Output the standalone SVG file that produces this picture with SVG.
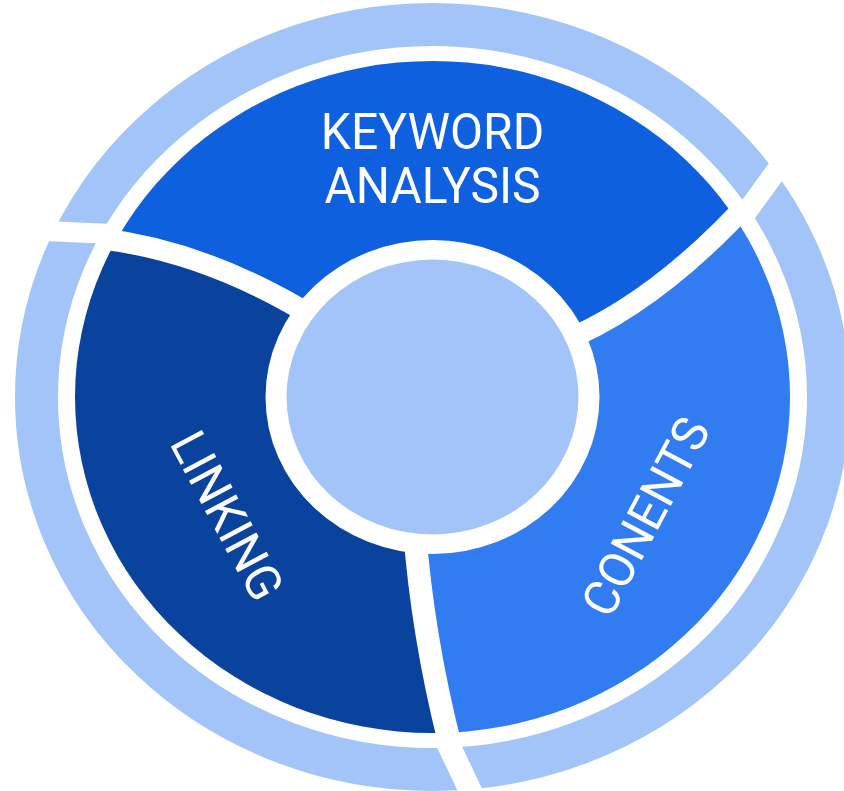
<svg xmlns="http://www.w3.org/2000/svg" width="844" height="791" viewBox="0 0 844 791">
<style>
.lbl{font-family:Roboto,"Liberation Sans",sans-serif;font-size:48px;fill:#fff;text-anchor:middle}
.gap{fill:none;stroke:#fff;stroke-linecap:butt}
.light{fill:#A3C4F8}
</style>
<defs>
<clipPath id="midclip"><ellipse cx="432.5" cy="397" rx="357.5" ry="336"/></clipPath>
<clipPath id="gapclip"><ellipse cx="432.5" cy="397" rx="366" ry="344"/></clipPath>
</defs>
<rect width="844" height="791" fill="#fff"/>
<g id="outer-ring">
<ellipse cx="432.5" cy="397" rx="396" ry="372.5" fill="none" stroke="#A3C4F8" stroke-width="43"/>
</g>
<g id="seg-keyword">
<path clip-path="url(#midclip)" fill="#0E60DF" d="M432.5,397 L320,320.9 Q205,248.4 90,237.6 L0,230 L0,0 L844,0 L844,100 L760,189.9 Q660,302.6 560,342.7 Z"/>
<text class="lbl" transform="translate(432.5 149.3) scale(1 1.03)">KEYWORD</text>
<text class="lbl" transform="translate(432.5 203.3) scale(1 1.03)">ANALYSIS</text>
</g>
<g id="seg-linking">
<path clip-path="url(#midclip)" fill="#0A439E" d="M432.5,397 L320,320.9 Q205,248.4 90,237.6 L0,230 L0,791 L460,791 L454.1,760 Q423.4,645 414.5,530 Z"/>
<text class="lbl" transform="translate(212 523.8) rotate(62) scale(1 1.03)">LINKING</text>
</g>
<g id="seg-contents">
<path clip-path="url(#midclip)" fill="#317CF1" d="M432.5,397 L560,342.7 Q660,302.6 760,189.9 L844,100 L844,791 L460,791 L454.1,760 Q423.4,645 414.5,530 Z"/>
<text class="lbl" transform="translate(660.6 524.8) rotate(-62) scale(1 1.03)">CONENTS</text>
</g>
<g id="dividers">
<g clip-path="url(#gapclip)">
<path class="gap" stroke-width="21" d="M90,237.6 Q205,248.4 320,320.9"/>
<path class="gap" stroke-width="21" d="M760,189.9 Q660,302.6 560,342.7"/>
<path class="gap" stroke-width="23" d="M414.5,530 Q423.4,645 454.1,760"/>
</g>
<path class="gap" stroke-width="20" d="M0,229 L112,234.1"/>
<path class="gap" stroke-width="21" d="M800,138.3 L745,214"/>
<path class="gap" stroke-width="23" d="M446.2,740 L476.2,803.2"/>
</g>
<g id="center">
<ellipse cx="432.5" cy="397" rx="167" ry="157" fill="#fff"/>
<ellipse class="light" cx="432.5" cy="397" rx="146" ry="137.5"/>
</g>
</svg>
